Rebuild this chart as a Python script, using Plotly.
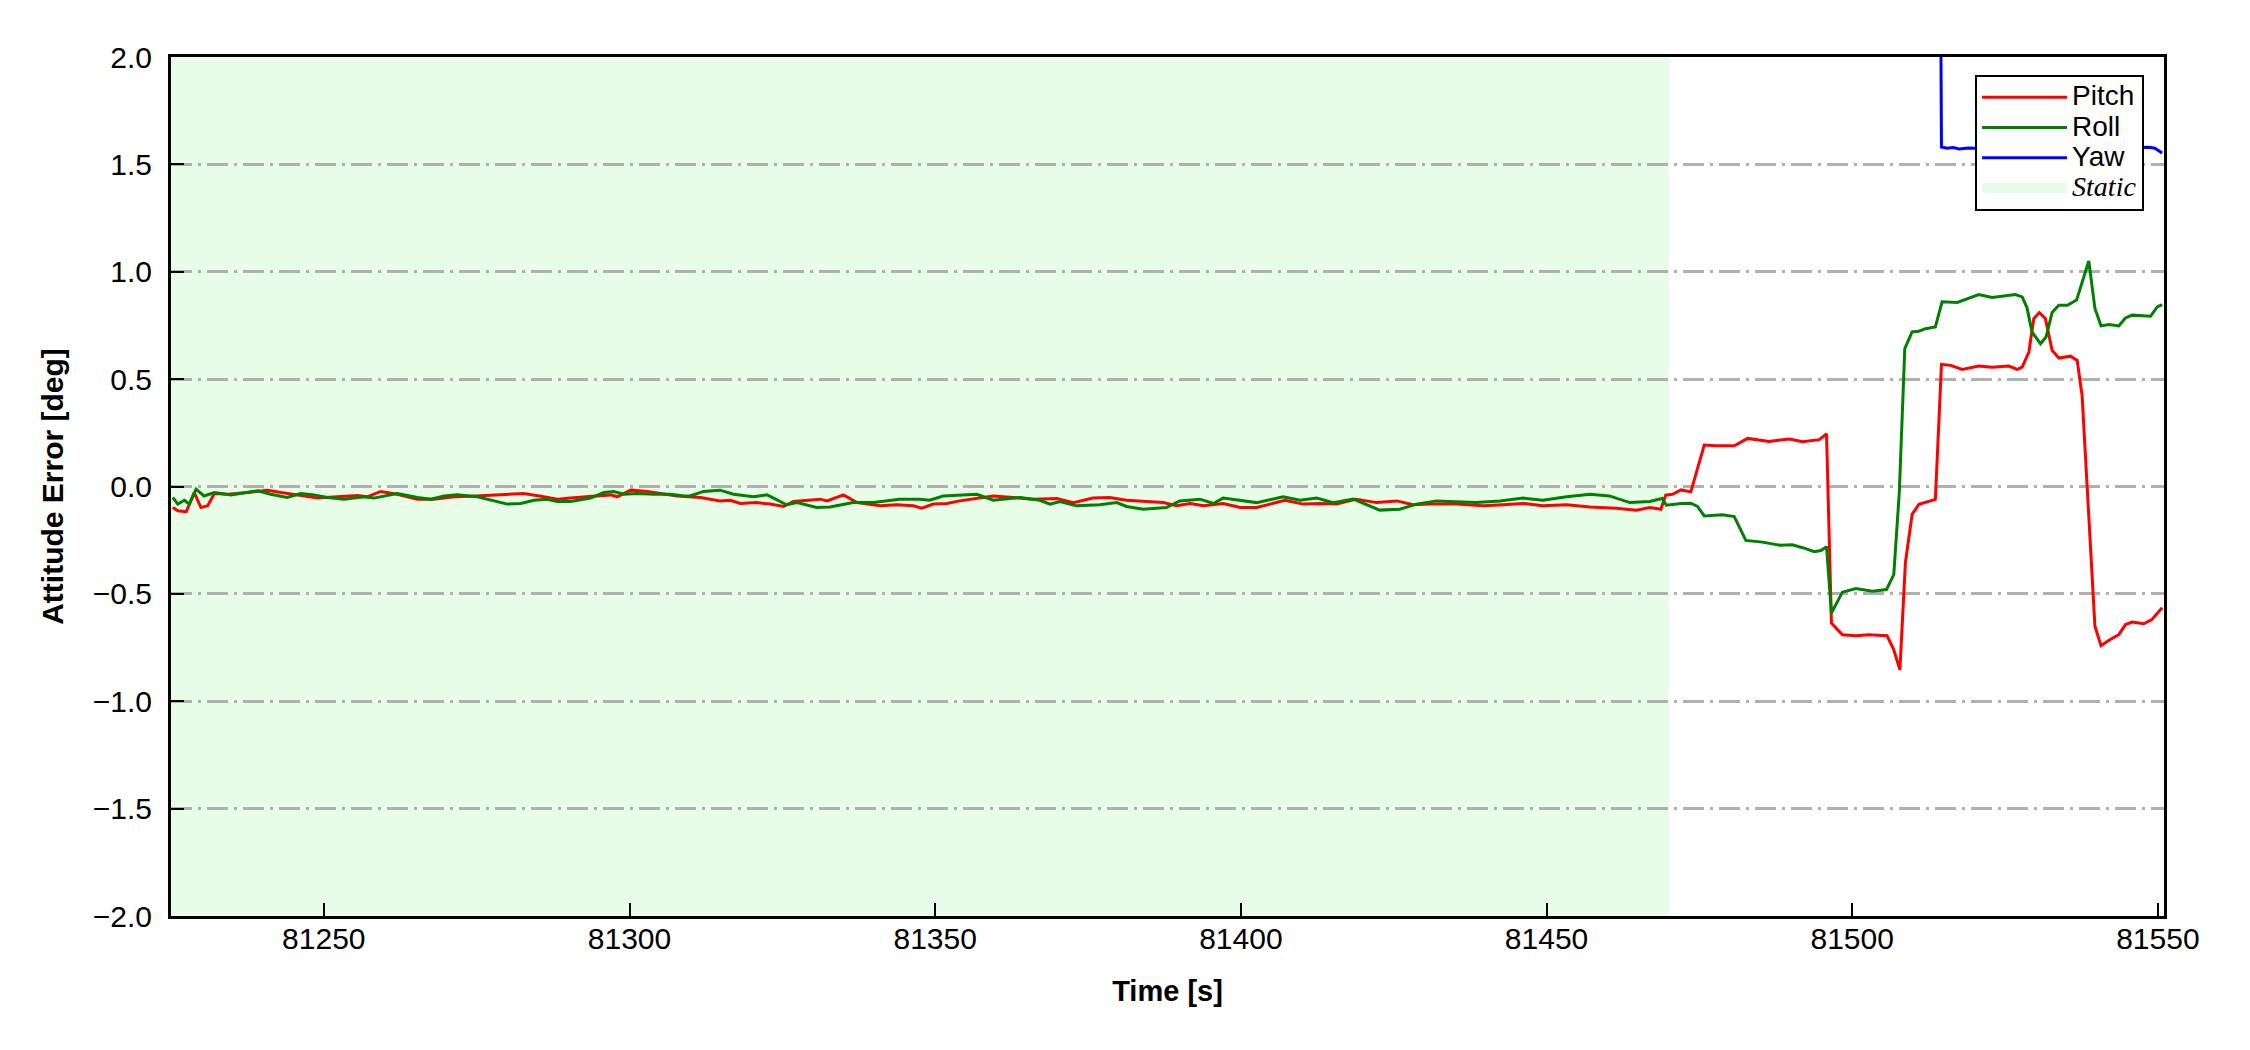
import plotly.graph_objects as go

# time axis limits and static period [s]
x_range = [81225.0, 81551.0]
y_range = [-2.0, 2.0]
static_start = 81225.0
static_end = 81470.0

# pitch error [deg]
pitch_t = [81225.3, 81226.1, 81227.5, 81228.8, 81229.9, 81231.0, 81232.1, 81234.3, 81237.5, 81240.8,
           81243.0, 81245.7, 81249.0, 81252.2, 81255.5, 81257.1, 81259.3, 81262.0, 81265.3, 81268.0,
           81271.3, 81274.0, 81279.5, 81282.7, 81285.5, 81288.2, 81290.4, 81293.6, 81296.9, 81298.0,
           81300.2, 81302.9, 81305.6, 81307.8, 81311.6, 81314.8, 81316.5, 81318.1, 81320.8, 81323.0,
           81325.2, 81326.8, 81331.2, 81332.3, 81335.0, 81337.2, 81341.0, 81343.7, 81346.4, 81347.8,
           81349.7, 81351.9, 81354.0, 81356.8, 81359.5, 81362.8, 81366.0, 81369.9, 81372.6, 81375.8,
           81378.5, 81381.3, 81384.5, 81387.3, 81389.5, 81391.7, 81393.9, 81397.1, 81399.9, 81402.6,
           81404.8, 81407.2, 81410.2, 81412.9, 81415.7, 81418.9, 81422.2, 81425.5, 81428.2, 81430.9,
           81435.3, 81439.6, 81442.9, 81446.2, 81449.4, 81453.3, 81457.1, 81461.4, 81464.7, 81466.9,
           81468.7, 81469.5, 81470.6, 81472.0, 81473.6, 81475.8, 81477.7, 81480.7, 81482.9, 81486.4,
           81489.7, 81491.9, 81494.6, 81495.8, 81496.6, 81498.4, 81500.6, 81502.7, 81505.7, 81506.8,
           81507.8, 81508.7, 81509.8, 81510.9, 81513.6, 81514.6, 81516.1, 81518.0, 81520.7, 81522.9,
           81525.6, 81527.0, 81527.8, 81528.9, 81529.7, 81530.6, 81531.6, 81532.7, 81533.8, 81535.7,
           81536.8, 81537.6, 81539.7, 81540.7, 81542.0, 81543.6, 81544.7, 81545.8, 81547.7, 81549.0,
           81550.7]
pitch_deg = [-0.098, -0.113, -0.117, -0.028, -0.098, -0.090, -0.033, -0.036, -0.028, -0.017,
             -0.028, -0.039, -0.054, -0.048, -0.042, -0.048, -0.023, -0.036, -0.059, -0.059,
             -0.048, -0.045, -0.039, -0.033, -0.045, -0.059, -0.054, -0.045, -0.039, -0.048,
             -0.017, -0.023, -0.033, -0.044, -0.051, -0.067, -0.064, -0.079, -0.075, -0.082,
             -0.093, -0.070, -0.059, -0.067, -0.039, -0.075, -0.090, -0.085, -0.090, -0.101,
             -0.082, -0.079, -0.067, -0.056, -0.044, -0.051, -0.059, -0.056, -0.075, -0.054,
             -0.051, -0.064, -0.070, -0.075, -0.090, -0.079, -0.090, -0.079, -0.098, -0.098,
             -0.082, -0.064, -0.082, -0.079, -0.082, -0.059, -0.075, -0.067, -0.085, -0.082,
             -0.082, -0.090, -0.085, -0.079, -0.090, -0.085, -0.095, -0.101, -0.110, -0.098,
             -0.106, -0.040, -0.036, -0.016, -0.025, 0.193, 0.190, 0.190, 0.224, 0.210,
             0.221, 0.209, 0.218, 0.245, -0.636, -0.690, -0.695, -0.690, -0.695, -0.760,
             -0.854, -0.355, -0.130, -0.083, -0.060, 0.569, 0.564, 0.545, 0.561, 0.555,
             0.561, 0.545, 0.556, 0.626, 0.782, 0.810, 0.782, 0.634, 0.598, 0.607,
             0.587, 0.424, -0.651, -0.741, -0.716, -0.690, -0.643, -0.631, -0.639, -0.620,
             -0.565]

# roll error [deg]
roll_t = [81225.3, 81226.1, 81227.2, 81228.0, 81229.1, 81230.4, 81232.1, 81234.8, 81239.2, 81241.3,
          81244.0, 81246.2, 81248.4, 81250.6, 81253.3, 81256.6, 81258.2, 81262.0, 81265.3, 81267.5,
          81269.7, 81271.8, 81275.1, 81277.3, 81280.0, 81282.2, 81284.4, 81286.5, 81288.2, 81290.4,
          81293.6, 81295.8, 81297.4, 81299.1, 81301.2, 81304.0, 81306.7, 81308.9, 81309.9, 81312.1,
          81314.8, 81317.0, 81320.3, 81322.5, 81325.7, 81327.4, 81330.6, 81332.8, 81336.6, 81339.9,
          81344.2, 81347.5, 81349.1, 81351.3, 81354.0, 81356.8, 81359.5, 81363.9, 81367.1, 81368.8,
          81370.4, 81373.1, 81376.9, 81379.7, 81381.3, 81384.0, 81387.8, 81390.0, 81393.3, 81395.5,
          81397.1, 81399.9, 81402.6, 81406.9, 81409.7, 81412.4, 81415.1, 81418.4, 81420.0, 81422.7,
          81426.0, 81428.7, 81432.0, 81435.3, 81438.5, 81442.4, 81446.2, 81449.4, 81453.3, 81457.1,
          81460.3, 81463.6, 81466.9, 81468.9, 81469.6, 81472.0, 81473.6, 81474.7, 81475.8, 81478.8,
          81480.7, 81482.6, 81485.3, 81488.3, 81490.2, 81491.9, 81493.8, 81494.9, 81495.8, 81496.6,
          81498.4, 81500.6, 81503.3, 81505.6, 81506.8, 81507.7, 81508.6, 81509.8, 81510.9, 81512.0,
          81513.6, 81514.7, 81517.2, 81520.7, 81522.9, 81526.7, 81527.8, 81528.6, 81529.4, 81530.8,
          81531.7, 81532.7, 81533.8, 81535.2, 81536.7, 81538.7, 81539.7, 81540.7, 81542.0, 81543.6,
          81544.7, 81545.8, 81548.8, 81549.9, 81550.7]
roll_deg = [-0.051, -0.082, -0.064, -0.082, -0.012, -0.044, -0.028, -0.040, -0.020, -0.036,
            -0.051, -0.033, -0.039, -0.051, -0.059, -0.048, -0.054, -0.033, -0.051, -0.059,
            -0.044, -0.039, -0.048, -0.062, -0.082, -0.079, -0.064, -0.059, -0.070, -0.070,
            -0.054, -0.028, -0.023, -0.036, -0.033, -0.036, -0.036, -0.044, -0.044, -0.023,
            -0.017, -0.036, -0.048, -0.039, -0.085, -0.075, -0.098, -0.095, -0.075, -0.075,
            -0.059, -0.059, -0.064, -0.044, -0.040, -0.036, -0.064, -0.051, -0.064, -0.082,
            -0.070, -0.090, -0.085, -0.075, -0.093, -0.106, -0.098, -0.067, -0.059, -0.079,
            -0.054, -0.064, -0.075, -0.048, -0.064, -0.054, -0.075, -0.059, -0.079, -0.110,
            -0.106, -0.082, -0.067, -0.070, -0.075, -0.067, -0.054, -0.064, -0.048, -0.036,
            -0.044, -0.075, -0.070, -0.056, -0.087, -0.079, -0.078, -0.093, -0.137, -0.132,
            -0.140, -0.251, -0.259, -0.274, -0.271, -0.285, -0.304, -0.298, -0.280, -0.589,
            -0.492, -0.475, -0.488, -0.480, -0.410, -0.028, 0.642, 0.720, 0.723, 0.735,
            0.743, 0.860, 0.857, 0.894, 0.880, 0.894, 0.883, 0.832, 0.720, 0.665,
            0.696, 0.810, 0.844, 0.844, 0.868, 1.050, 0.829, 0.748, 0.754, 0.748,
            0.785, 0.798, 0.793, 0.836, 0.847]

# yaw error [deg], above the axis range until ~81514.6 s
yaw_t = [81514.4, 81514.6, 81515.5, 81516.5, 81517.5, 81519.0, 81521.0, 81524.0, 81528.0, 81532.0,
         81536.0, 81540.0, 81544.0, 81547.0, 81548.6, 81549.5, 81550.7]
yaw_deg = [2.60, 1.581, 1.575, 1.578, 1.572, 1.576, 1.574, 1.577, 1.575, 1.578,
           1.576, 1.574, 1.577, 1.578, 1.580, 1.575, 1.553]

font = "Liberation Sans, Arial, sans-serif"
static_color = "#e8fde8"


def legend_label(text, serif=False):
    # bigger text than the legend font, so rows stay tight like the original
    family = "Liberation Serif, Times New Roman, serif" if serif else font
    return f'<span style="font-size:28px;font-family:{family}">{text}</span>'


fig = go.Figure()

# static period drawn under the gridlines
fig.add_vrect(x0=static_start, x1=static_end, fillcolor=static_color, line_width=0, layer="below")

for t, v, name, color, rank in [(pitch_t, pitch_deg, "Pitch", "#ff0000", 1),
                                (roll_t, roll_deg, "Roll", "#008000", 2),
                                (yaw_t, yaw_deg, "Yaw", "#0000ff", 3)]:
    fig.add_trace(go.Scatter(x=t, y=v, mode="lines", name=legend_label(name), legendrank=rank,
                             line=dict(color=color, width=3)))

# legend entry for the static patch (a thick pale line reads as the patch)
fig.add_trace(go.Scatter(x=[None], y=[None], mode="lines", line=dict(color=static_color, width=14),
                         name=legend_label("<i>Static</i>", serif=True), legendrank=4))

fig.update_xaxes(
    range=x_range, tickvals=[81250, 81300, 81350, 81400, 81450, 81500, 81550], tickformat="d",
    ticks="inside", ticklen=13, tickwidth=2, tickcolor="black",
    showline=True, linecolor="black", linewidth=3, mirror=True,
    showgrid=False, zeroline=False, ticklabelstandoff=-6, automargin=False,
    tickfont=dict(family=font, size=30, color="black"),
    title=dict(text="<b>Time [s]</b>", standoff=27,
               font=dict(family=font, size=29, color="black")))

fig.update_yaxes(
    range=y_range, tickvals=[-2, -1.5, -1, -0.5, 0, 0.5, 1, 1.5, 2], tickformat=".1f",
    ticks="inside", ticklen=13, tickwidth=2, tickcolor="black",
    showline=True, linecolor="black", linewidth=3, mirror=True,
    showgrid=True, gridcolor="#b0b0b0", gridwidth=2.5, griddash="21px,6px,3px,6px",
    zeroline=False, ticklabelstandoff=10, automargin=False,
    tickfont=dict(family=font, size=30, color="black"),
    title=dict(text="<b>Attitude Error [deg]</b>", standoff=21,
               font=dict(family=font, size=30, color="black")))

# the page body adds 8px, so margins are shifted to land the plot where the original has it
fig.update_layout(
    width=2250, height=1050,
    margin=dict(l=163, r=94, t=49, b=142),
    plot_bgcolor="white", paper_bgcolor="white",
    legend=dict(x=0.990, y=0.979, xanchor="right", yanchor="top",
                bgcolor="white", bordercolor="black", borderwidth=2,
                font=dict(family=font, size=21, color="black"),
                tracegroupgap=0, itemwidth=85),
)

fig.write_html("out.html")
